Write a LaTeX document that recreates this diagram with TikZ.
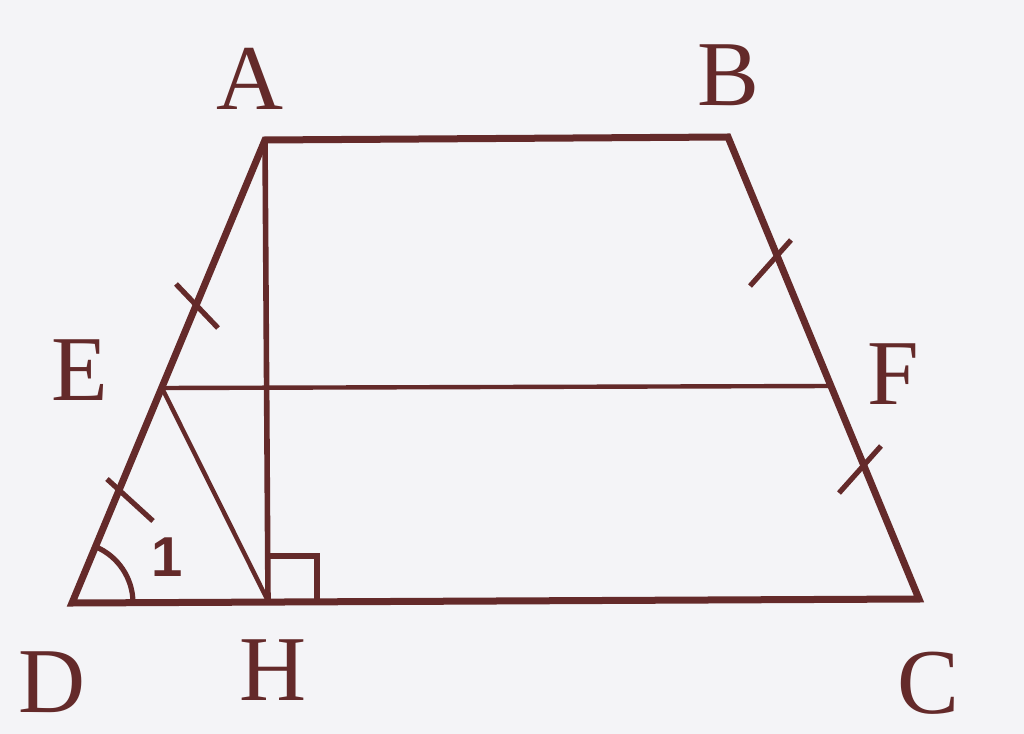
\documentclass[tikz,border=0pt]{standalone}
\usepackage{fontspec}
\setmainfont{Liberation Serif}
\newfontfamily\numfont{Liberation Sans}
\definecolor{ink}{RGB}{100,42,42}
\definecolor{paper}{RGB}{244,244,247}
\begin{document}
\begin{tikzpicture}[x=0.025cm,y=-0.025cm,
  thickline/.style={draw=ink,line width=0.175cm,line join=miter},
  midline/.style={draw=ink,line width=0.14cm},
  thinline/.style={draw=ink,line width=0.11cm},
  tickmark/.style={draw=ink,line width=0.13cm},
  ptlabel/.style={text=ink,font=\fontsize{66}{70}\selectfont,inner sep=0pt,anchor=center}]
\fill[paper] (0,0) rectangle (1024,734);
\useasboundingbox (0,0) rectangle (1024,734);
% points
\coordinate (A) at (265,140);
\coordinate (B) at (728,137);
\coordinate (C) at (919,599);
\coordinate (D) at (72,603);
\coordinate (H) at (268,601);
\coordinate (E) at (162,388);
\coordinate (F) at (831,386);
% tick coordinates
\coordinate (t1a) at (176,284); \coordinate (t1b) at (218,328);
\coordinate (t2a) at (107,479); \coordinate (t2b) at (153,521);
\coordinate (t3a) at (750,286); \coordinate (t3b) at (791,240);
\coordinate (t4a) at (839,493); \coordinate (t4b) at (881,446);
% thin lines
\draw[thinline] (E) -- (F);
\draw[thinline] (E) -- (H);
% altitude
\draw[midline] (A) -- (H);
% trapezoid
\draw[thickline] (D) -- (A) -- (B) -- (C) -- cycle;
% ticks
\draw[tickmark] (t1a) -- (t1b);
\draw[tickmark] (t2a) -- (t2b);
\draw[tickmark] (t3a) -- (t3b);
\draw[tickmark] (t4a) -- (t4b);
% right angle
\draw[tickmark] (H) ++(0,-45) -- ++(49,0) -- ++(0,45);
% angle arc
\draw[tickmark] (D) ++(61,0) arc[start angle=0,end angle=67.4,radius=1.525cm];
% labels
\node[ptlabel] (lA) at (250,79) {A};
\node[ptlabel] (lB) at (728,75) {B};
\node[ptlabel] (lE) at (80,370) {E};
\node[ptlabel] (lF) at (893,374) {F};
\node[ptlabel] (lD) at (52,682) {D};
\node[ptlabel] (lH) at (273,670) {H};
\node[ptlabel] (lC) at (928,683) {C};
\node[text=ink,font=\numfont\bfseries\fontsize{40}{44}\selectfont,inner sep=0pt] (one) at (167,557) {1};
\end{tikzpicture}
\end{document}
